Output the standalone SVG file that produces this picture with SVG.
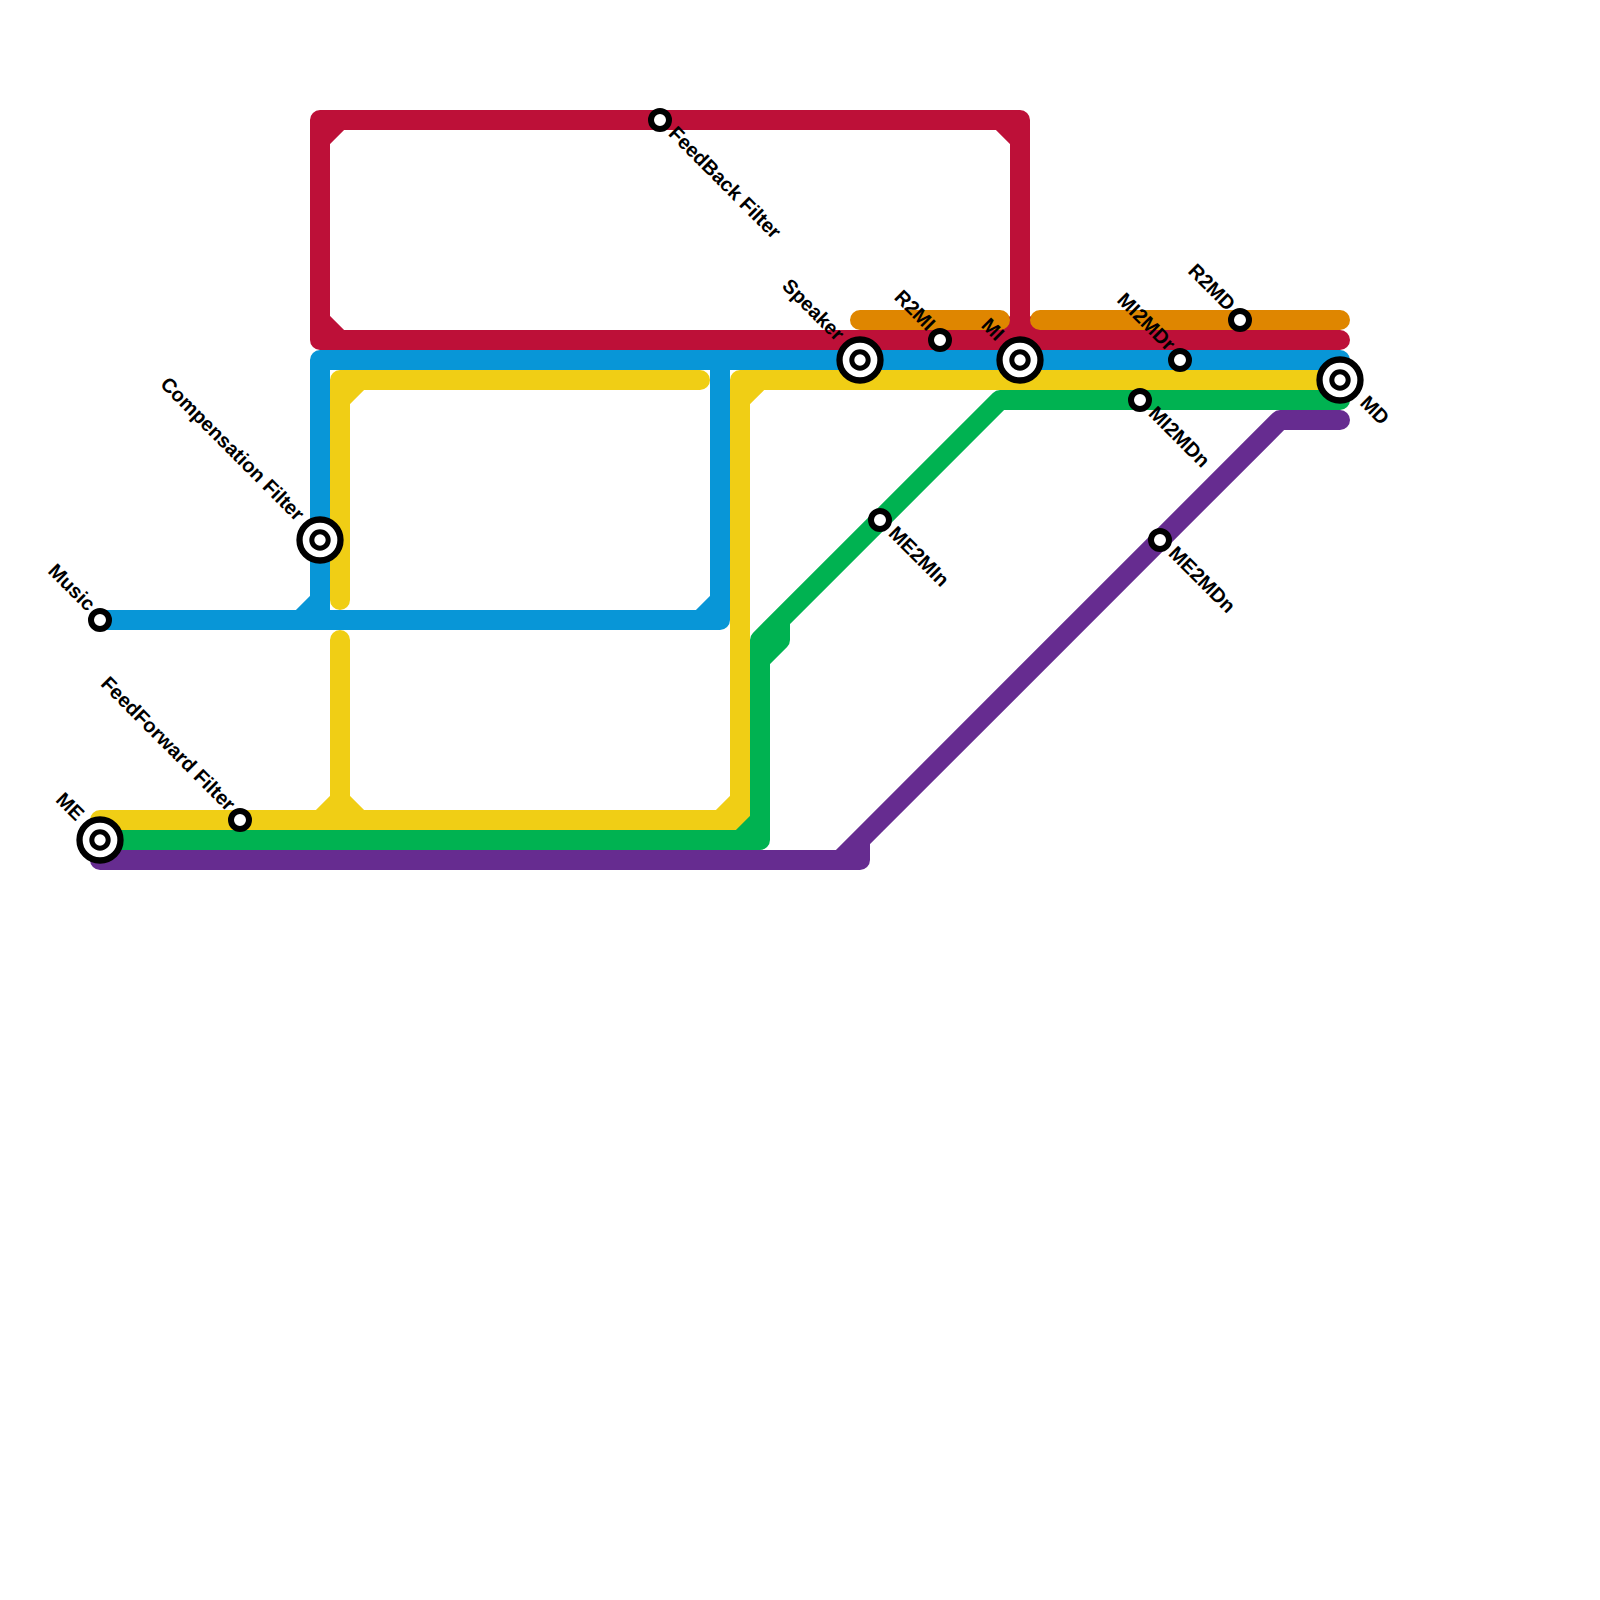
<svg xmlns="http://www.w3.org/2000/svg" width="1600" height="1600" viewBox="0 0 1600 1600">
<style>
.l{fill:none;stroke-width:20;stroke-linecap:round;stroke-linejoin:round}
.b{fill:#fff;stroke:#000;stroke-width:6.3}
.i{fill:#fff;stroke:#000;stroke-width:5}
.s{fill:#fff;stroke:#000;stroke-width:6}
text{font-family:"Liberation Sans",Arial,sans-serif;font-weight:700;font-size:20px;fill:#000}
.e{text-anchor:end}
</style>
<rect width="1600" height="1600" fill="#fff"/>
<g id="connectors">
<path id="line-red" class="l" stroke="#bd1038" d="M1340 340H320V120H1020V340M320 140L340 120M320 320L340 340M1000 120L1020 140M1000 340L1020 320L1040 340"/>
<path id="line-orange" class="l" stroke="#df8600" d="M860 320H1000M1040 320H1340"/>
<path id="line-blue" class="l" stroke="#0896d7" d="M100 620H720V360M320 620V360H1340M300 620L320 600M700 620L720 600"/>
<path id="line-yellow" class="l" stroke="#f0ce15" d="M340 600V380H700M100 820H740V380H1340M340 640V820M340 400L360 380M740 400L760 380M720 820L740 800M320 820L340 800L360 820"/>
<path id="line-green" class="l" stroke="#00b251" d="M100 840H760V640L1000 400H1340M740 840L760 820M760 660L780 640V620"/>
<path id="line-purple" class="l" stroke="#662c90" d="M100 860H860V840L1280 420H1340M840 860L860 840"/>
</g>
<g id="n-feedback"><circle class="s" cx="660" cy="120" r="9"/><text transform="translate(667.5 134.5) rotate(45)">FeedBack Filter</text></g>
<g id="n-speaker"><circle class="b" cx="860" cy="360" r="20.5"/><circle class="i" cx="860" cy="360" r="8.2"/><text class="e" transform="translate(836 342) rotate(45)">Speaker</text></g>
<g id="n-r2mi"><circle class="s" cx="940" cy="340" r="9"/><text class="e" transform="translate(927 332) rotate(45)">R2MI</text></g>
<g id="n-mi"><circle class="b" cx="1020" cy="360" r="20.5"/><circle class="i" cx="1020" cy="360" r="8.2"/><text class="e" transform="translate(996 342) rotate(45)">MI</text></g>
<g id="n-mi2mdr"><circle class="s" cx="1180" cy="360" r="9"/><text class="e" transform="translate(1167 352) rotate(45)">MI2MDr</text></g>
<g id="n-r2md"><circle class="s" cx="1240" cy="320" r="9"/><text class="e" transform="translate(1227 312) rotate(45)">R2MD</text></g>
<g id="n-md"><circle class="b" cx="1340" cy="380" r="20.5"/><circle class="i" cx="1340" cy="380" r="8.2"/><text transform="translate(1359 404) rotate(45)">MD</text></g>
<g id="n-mi2mdn"><circle class="s" cx="1140" cy="400" r="9"/><text transform="translate(1147.5 414.5) rotate(45)">MI2MDn</text></g>
<g id="n-me2min"><circle class="s" cx="880" cy="520" r="9"/><text transform="translate(887.5 534.5) rotate(45)">ME2MIn</text></g>
<g id="n-me2mdn"><circle class="s" cx="1160" cy="540" r="9"/><text transform="translate(1167.5 554.5) rotate(45)">ME2MDn</text></g>
<g id="n-comp"><circle class="b" cx="320" cy="540" r="20.5"/><circle class="i" cx="320" cy="540" r="8.2"/><text class="e" transform="translate(296 522) rotate(45)">Compensation Filter</text></g>
<g id="n-music"><circle class="s" cx="100" cy="620" r="9"/><text class="e" transform="translate(87 612) rotate(45)">Music</text></g>
<g id="n-ff"><circle class="s" cx="240" cy="820" r="9"/><text class="e" transform="translate(227 812) rotate(45)">FeedForward Filter</text></g>
<g id="n-me"><circle class="b" cx="100" cy="840" r="20.5"/><circle class="i" cx="100" cy="840" r="8.2"/><text class="e" transform="translate(76 822) rotate(45)">ME</text></g>
</svg>
